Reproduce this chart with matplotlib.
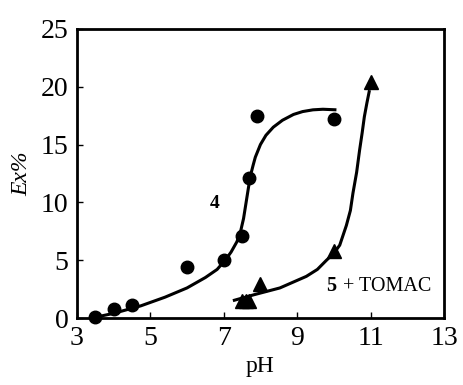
import matplotlib
matplotlib.use("Agg")
import matplotlib.pyplot as plt

# データ
ph_4 = [3.5, 4.0, 4.5, 6.0, 7.0, 7.5, 7.7, 7.9, 10.0]
ex_4 = [0.1, 0.8, 1.1, 4.4, 5.0, 7.1, 12.1, 17.5, 17.2]
ph_5 = [7.5, 7.6, 7.7, 8.0, 10.0, 11.0]
ex_5 = [1.5, 1.5, 1.5, 2.9, 5.8, 20.4]

# 近似曲線 (図から読み取った点)
fit4_x = [3.4, 4.0, 4.74, 5.4, 6.0, 6.5, 6.82, 7.04, 7.2, 7.36, 7.46, 7.54, 7.6, 7.66, 7.72,
          7.8, 7.86, 8.0, 8.15, 8.35, 8.6, 8.9, 9.15, 9.43, 9.7, 10.07]
fit4_y = [0.0, 0.4, 1.05, 1.8, 2.6, 3.5, 4.2, 5.0, 5.7, 6.6, 7.5, 8.6, 9.8, 11.0, 12.2,
          13.2, 13.9, 15.0, 15.8, 16.5, 17.1, 17.6, 17.85, 18.0, 18.05, 18.0]
fit5_x = [7.25, 7.81, 8.53, 9.25, 9.55, 9.80, 10.0, 10.16, 10.34, 10.45, 10.52, 10.62, 10.70,
          10.77, 10.83, 10.9, 10.97]
fit5_y = [1.5, 2.0, 2.6, 3.6, 4.2, 5.0, 5.6, 6.3, 8.0, 9.3, 10.8, 12.6, 14.5, 16.0, 17.4,
          18.6, 19.7]

xticks = [3, 5, 7, 9, 11, 13]
yticks = [0, 5, 10, 15, 20, 25]

plt.rcParams['font.family'] = ['Liberation Serif', 'DejaVu Serif']

fig = plt.figure(figsize=(4.63, 3.85), dpi=100)
ax = fig.add_axes([0.166, 0.174, 0.793, 0.751])

# 曲線を描画
ax.plot(fit4_x, fit4_y, color='black', lw=2.2, solid_capstyle='butt')
ax.plot(fit5_x, fit5_y, color='black', lw=2.2, solid_capstyle='butt')
ax.plot(ph_4, ex_4, 'o', color='black', ms=9, clip_on=False)
ax.plot(ph_5, ex_5, '^', color='black', ms=10, clip_on=False)

ax.text(6.75, 9.5, '4', fontsize=14, fontweight='bold', ha='center', va='baseline')
ax.text(9.8, 2.3, '5', fontsize=14.5, fontweight='bold', ha='left', va='baseline')
ax.text(10.25, 2.3, '+ TOMAC', fontsize=14.5, ha='left', va='baseline')

ax.set_xlim(3, 13)
ax.set_ylim(0, 25)
ax.set_xticks(xticks)
ax.set_yticks(yticks)
ax.tick_params(direction='in', length=4, width=1, labelsize=20, pad=6)
for s in ax.spines.values():
    s.set_linewidth(2)

ax.set_xlabel('pH', fontsize=17, labelpad=3)
ax.set_ylabel('Ex%', fontsize=17, fontstyle='italic', labelpad=6)

plt.savefig('out.png', dpi=100)
plt.close()
